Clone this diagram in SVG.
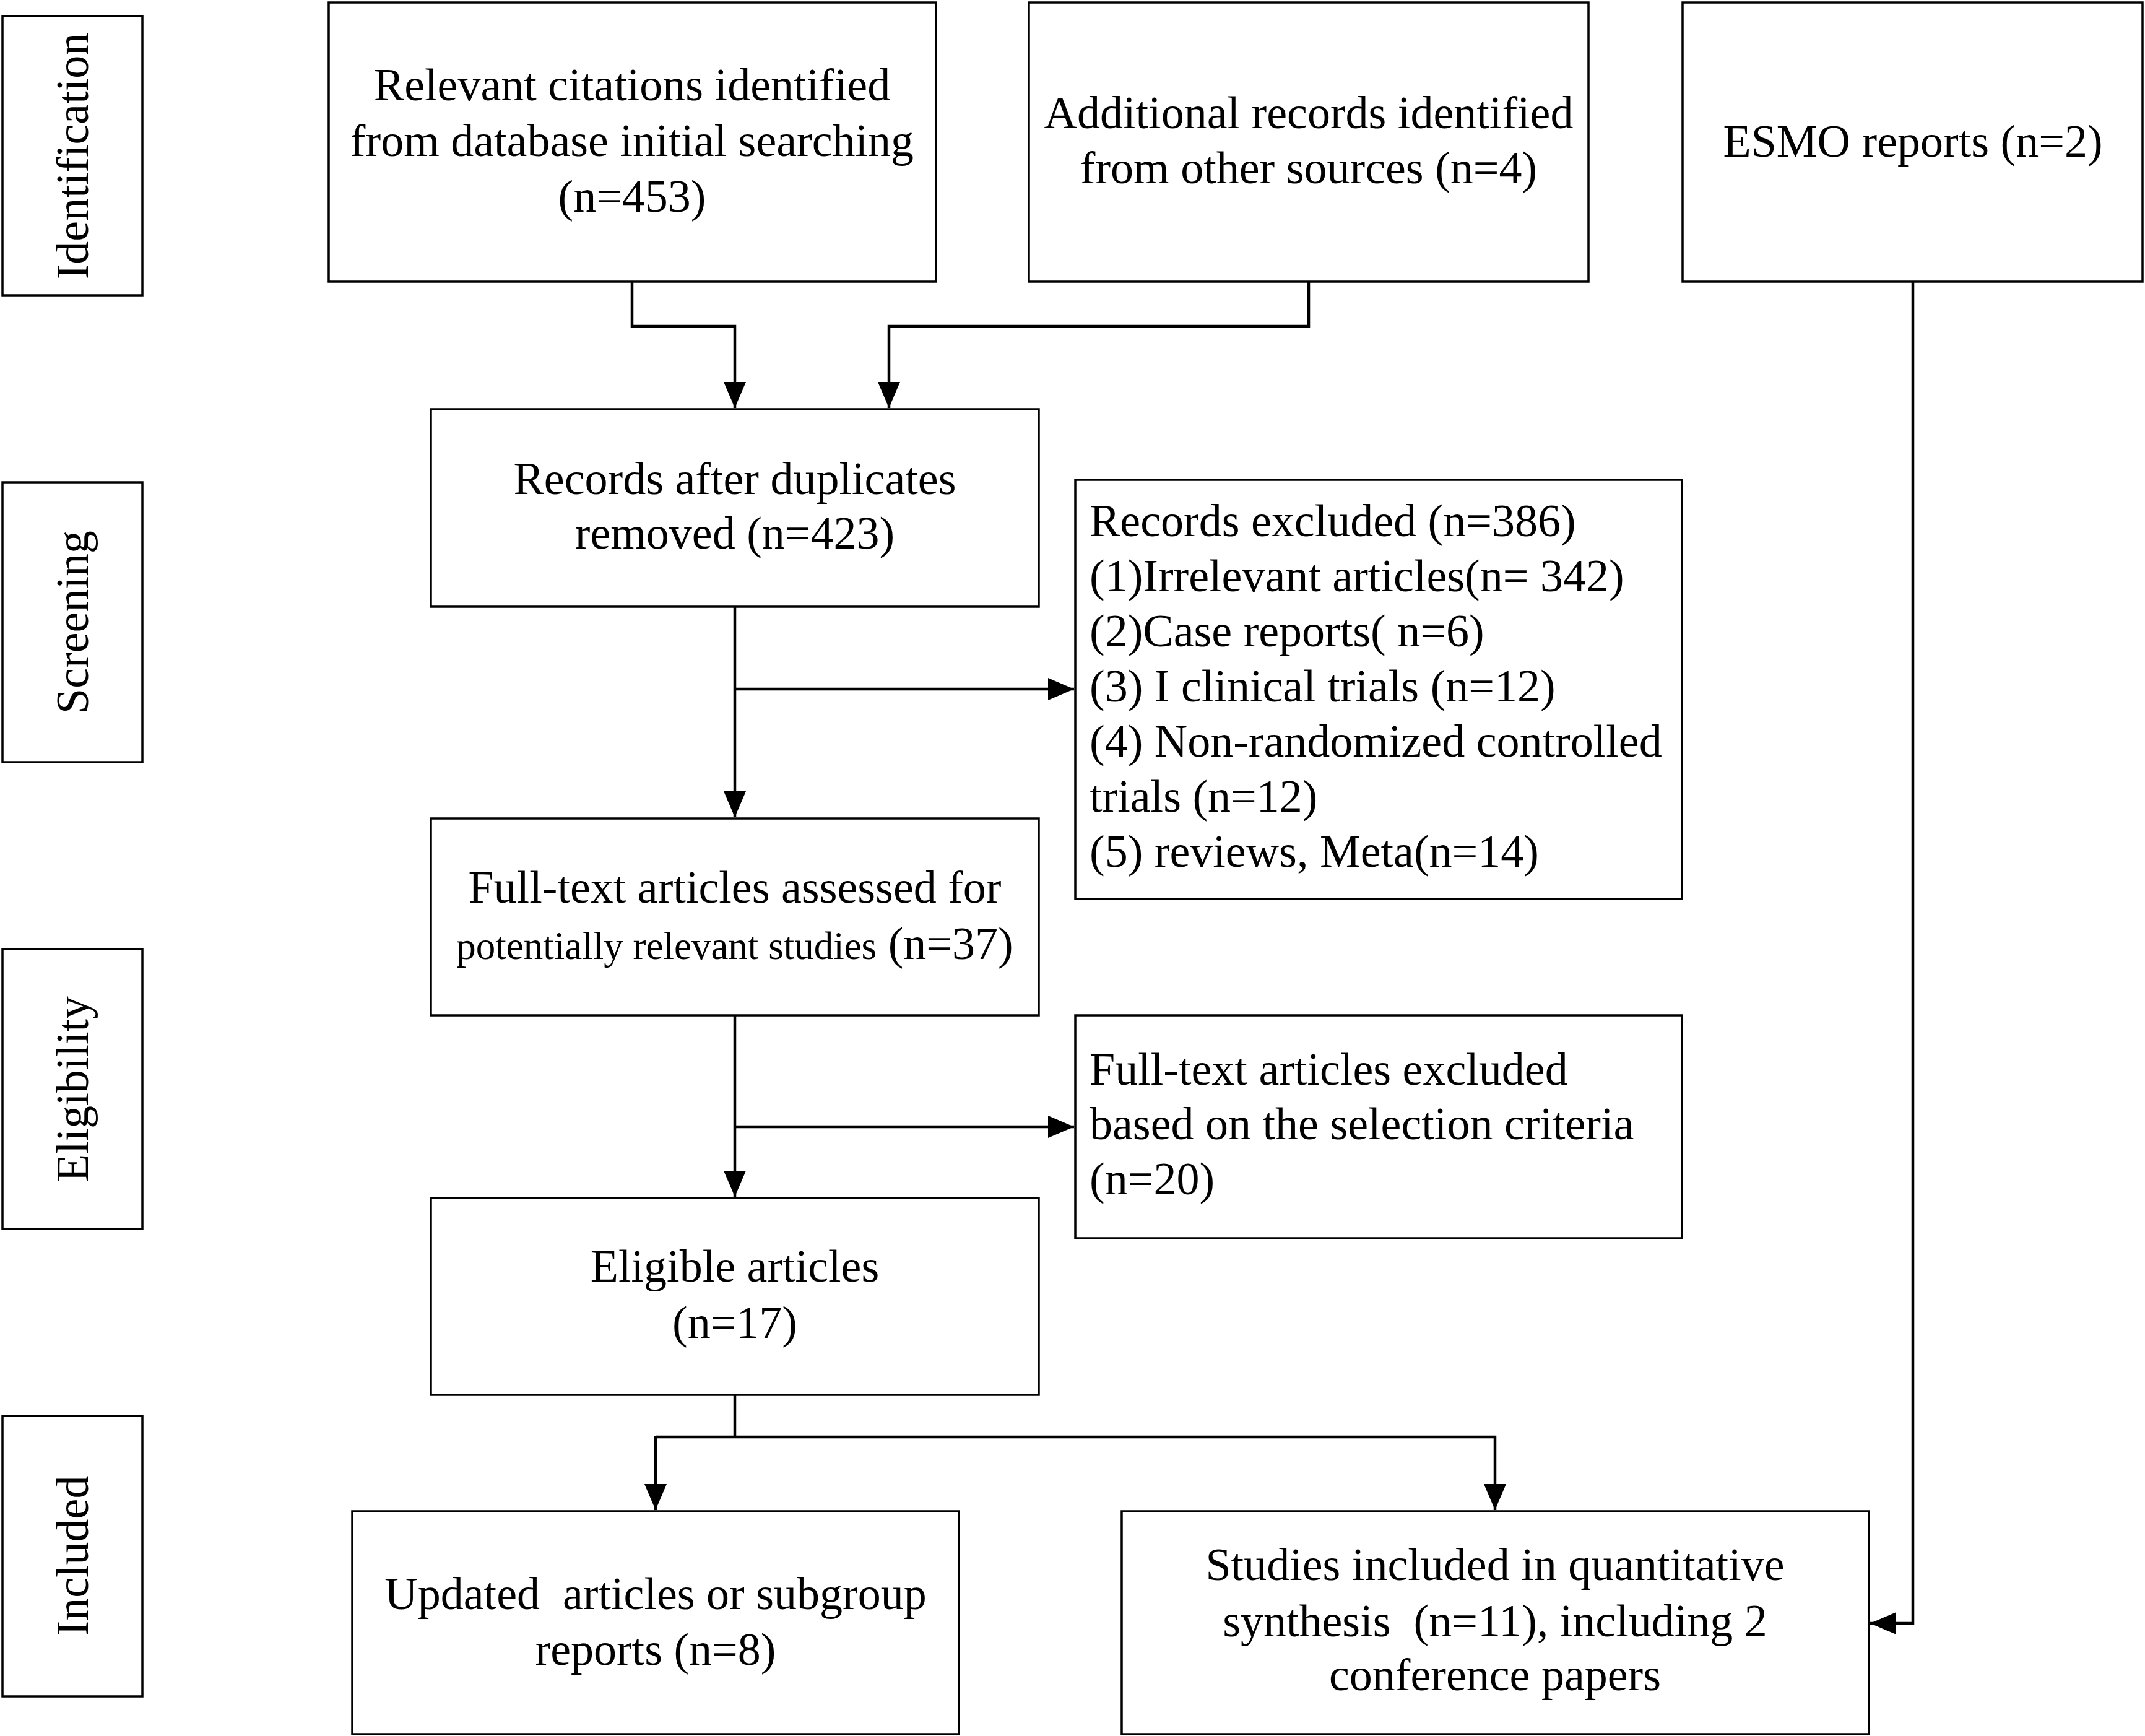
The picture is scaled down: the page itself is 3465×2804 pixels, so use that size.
<svg xmlns="http://www.w3.org/2000/svg" width="3465" height="2804" viewBox="0 0 3465 2804">
<style>
.box{fill:#fff;stroke:#000;stroke-width:3.5}
.t{font-family:"Liberation Serif","Times New Roman",serif;font-size:74px;fill:#000}
.c{text-anchor:middle}
.l{text-anchor:start}
.sm{font-size:63px}
.con{fill:none;stroke:#000;stroke-width:4.5}
</style>
<defs>
<marker id="ah" markerUnits="userSpaceOnUse" markerWidth="42" markerHeight="36" refX="42" refY="18" orient="auto">
<path d="M0,0 L42,18 L0,36 z" fill="#000"/>
</marker>
</defs>
<rect width="3465" height="2804" fill="#fff"/>

<g id="stage-identification">
<rect class="box" x="4" y="26" width="226" height="451"/>
<text class="t c" x="117" y="252" dominant-baseline="central" transform="rotate(-90 117 252)">Identification</text>
</g>
<g id="stage-screening">
<rect class="box" x="4" y="779" width="226" height="452"/>
<text class="t c" x="117" y="1005" dominant-baseline="central" transform="rotate(-90 117 1005)">Screening</text>
</g>
<g id="stage-eligibility">
<rect class="box" x="4" y="1533" width="226" height="452"/>
<text class="t c" x="117" y="1759" dominant-baseline="central" transform="rotate(-90 117 1759)">Eligibility</text>
</g>
<g id="stage-included">
<rect class="box" x="4" y="2287" width="226" height="453"/>
<text class="t c" x="117" y="2513" dominant-baseline="central" transform="rotate(-90 117 2513)">Included</text>
</g>

<g id="n-database">
<rect class="box" x="531" y="4" width="981" height="451"/>
<text class="t c" x="1021" y="162">Relevant citations identified</text>
<text class="t c" x="1021" y="252">from database initial searching</text>
<text class="t c" x="1021" y="342">(n=453)</text>
</g>
<g id="n-other">
<rect class="box" x="1662" y="4" width="904" height="451"/>
<text class="t c" x="2114" y="207">Additional records identified</text>
<text class="t c" x="2114" y="296">from other sources (n=4)</text>
</g>
<g id="n-esmo">
<rect class="box" x="2718" y="4" width="743" height="451"/>
<text class="t c" x="3090" y="253">ESMO reports (n=2)</text>
</g>
<g id="n-records">
<rect class="box" x="696" y="661" width="982" height="319"/>
<text class="t c" x="1187" y="798">Records after duplicates</text>
<text class="t c" x="1187" y="886">removed (n=423)</text>
</g>
<g id="n-excluded">
<rect class="box" x="1737" y="775" width="980" height="677"/>
<text class="t l" x="1760" y="866">Records excluded (n=386)</text>
<text class="t l" x="1760" y="955">(1)Irrelevant articles(n= 342)</text>
<text class="t l" x="1760" y="1044">(2)Case reports( n=6)</text>
<text class="t l" x="1760" y="1133">(3) I clinical trials (n=12)</text>
<text class="t l" x="1760" y="1222">(4) Non-randomized controlled</text>
<text class="t l" x="1760" y="1311">trials (n=12)</text>
<text class="t l" x="1760" y="1400">(5) reviews, Meta(n=14)</text>
</g>
<g id="n-fulltext">
<rect class="box" x="696" y="1322" width="982" height="318"/>
<text class="t c" x="1187" y="1458">Full-text articles assessed for</text>
<text class="t c" x="1187" y="1549"><tspan class="sm">potentially relevant studies</tspan> (n=37)</text>
</g>
<g id="n-ftexcluded">
<rect class="box" x="1737" y="1640" width="980" height="360"/>
<text class="t l" x="1760" y="1752">Full-text articles excluded</text>
<text class="t l" x="1760" y="1840">based on the selection criteria</text>
<text class="t l" x="1760" y="1929">(n=20)</text>
</g>
<g id="n-eligible">
<rect class="box" x="696" y="1935" width="982" height="318"/>
<text class="t c" x="1187" y="2070">Eligible articles</text>
<text class="t c" x="1187" y="2161">(n=17)</text>
</g>
<g id="n-updated">
<rect class="box" x="569" y="2441" width="980" height="360"/>
<text class="t c" x="1059" y="2599">Updated&#160; articles or subgroup</text>
<text class="t c" x="1059" y="2689">reports (n=8)</text>
</g>
<g id="n-studies">
<rect class="box" x="1812" y="2441" width="1207" height="360"/>
<text class="t c" x="2415" y="2552">Studies included in quantitative</text>
<text class="t c" x="2415" y="2643">synthesis&#160; (n=11), including 2</text>
<text class="t c" x="2415" y="2730">conference papers</text>
</g>

<g id="connectors">
<polyline class="con" points="1021,455 1021,527 1187,527 1187,659" marker-end="url(#ah)"/>
<polyline class="con" points="2114,455 2114,527 1436,527 1436,659" marker-end="url(#ah)"/>
<line class="con" x1="1187" y1="980" x2="1187" y2="1320" marker-end="url(#ah)"/>
<line class="con" x1="1187" y1="1113" x2="1735" y2="1113" marker-end="url(#ah)"/>
<line class="con" x1="1187" y1="1640" x2="1187" y2="1933" marker-end="url(#ah)"/>
<line class="con" x1="1187" y1="1820" x2="1735" y2="1820" marker-end="url(#ah)"/>
<line class="con" x1="1187" y1="2253" x2="1187" y2="2321"/>
<polyline class="con" points="1059,2321 2415,2321 2415,2439" marker-end="url(#ah)"/>
<line class="con" x1="1059" y1="2319" x2="1059" y2="2439" marker-end="url(#ah)"/>
<polyline class="con" points="3090,455 3090,2622 3021,2622" marker-end="url(#ah)"/>
</g>
</svg>
